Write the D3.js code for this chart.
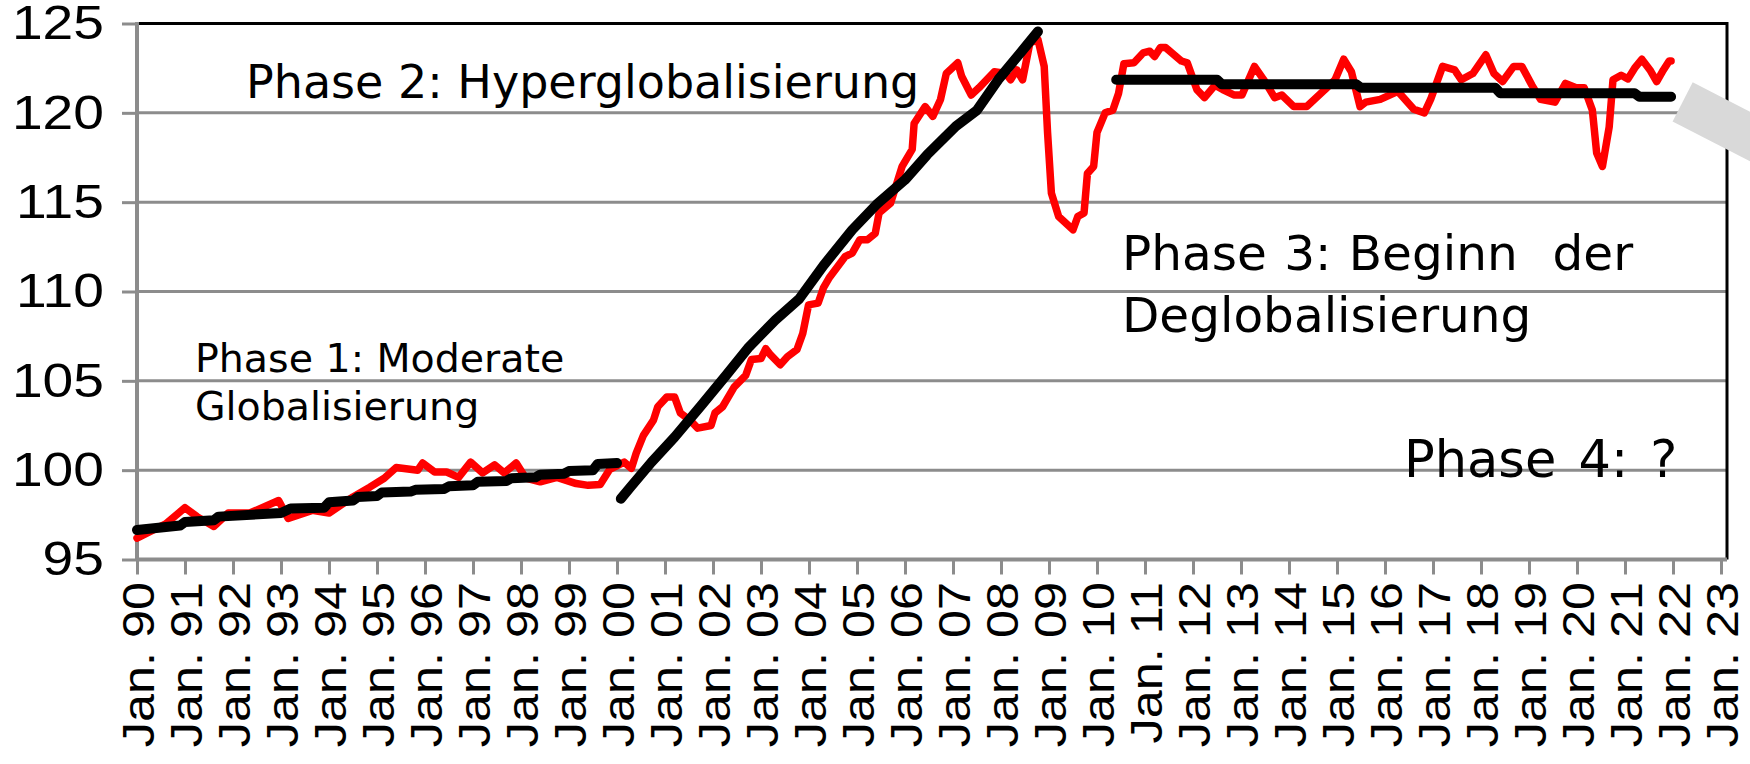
<!DOCTYPE html>
<html>
<head>
<meta charset="utf-8">
<style>
body { margin: 0; background: #fff; }
svg { display: block; font-family: "DejaVu Sans", Verdana, sans-serif; }
.grid line { stroke: #8c8c8c; stroke-width: 3; }
.axis path { display: none; }
.axis line { stroke: #8c8c8c; stroke-width: 3; }
.axis text { fill: #000; }
.note { fill: #000; white-space: pre; }
</style>
</head>
<body>
<svg width="1750" height="764"></svg>
<script src="https://cdn.jsdelivr.net/npm/d3@7"></script>
<script>

// index values, [decimal year, value]
const tradeIndex = [
  [1990.00, 96.2], [1990.30, 96.6], [1990.60, 97.0], [1991.00, 97.9], [1991.25, 97.4],
  [1991.60, 96.85], [1991.90, 97.6], [1992.35, 97.6], [1992.95, 98.3], [1993.15, 97.3],
  [1993.65, 97.75], [1994.00, 97.6], [1994.50, 98.5], [1994.85, 99.05], [1995.15, 99.55],
  [1995.40, 100.15], [1995.85, 100.0], [1995.95, 100.4], [1996.20, 99.9], [1996.45, 99.9],
  [1996.70, 99.6], [1996.95, 100.45], [1997.20, 99.85], [1997.45, 100.3], [1997.65, 99.85],
  [1997.90, 100.4], [1998.10, 99.55], [1998.40, 99.35], [1998.75, 99.6], [1999.15, 99.25],
  [1999.40, 99.15], [1999.65, 99.2], [1999.85, 100.05], [2000.15, 100.45], [2000.30, 100.1],
  [2000.40, 100.95], [2000.55, 101.95], [2000.76, 102.8], [2000.85, 103.55], [2001.04, 104.1],
  [2001.20, 104.1], [2001.32, 103.2], [2001.52, 102.8], [2001.68, 102.35], [2001.96, 102.5],
  [2002.04, 103.2], [2002.20, 103.55], [2002.44, 104.65], [2002.68, 105.3], [2002.80, 106.2],
  [2003.00, 106.25], [2003.10, 106.8], [2003.20, 106.45], [2003.40, 105.9], [2003.55, 106.35],
  [2003.75, 106.75], [2003.87, 107.65], [2003.99, 109.25], [2004.19, 109.35], [2004.30, 110.2],
  [2004.43, 110.8], [2004.75, 111.95], [2004.90, 112.15], [2005.06, 112.9], [2005.22, 112.9],
  [2005.38, 113.25], [2005.46, 114.4], [2005.70, 114.95], [2005.94, 117.0], [2006.15, 117.95],
  [2006.19, 119.4], [2006.42, 120.35], [2006.58, 119.8], [2006.74, 120.75], [2006.86, 122.2],
  [2007.10, 122.8], [2007.18, 122.05], [2007.38, 121.0], [2007.54, 121.4], [2007.86, 122.3],
  [2008.10, 122.2], [2008.20, 121.85], [2008.33, 122.4], [2008.45, 121.85], [2008.60, 123.9],
  [2008.77, 124.1], [2008.90, 122.6], [2008.97, 118.9], [2009.05, 115.5], [2009.20, 114.2],
  [2009.50, 113.45], [2009.60, 114.2], [2009.73, 114.4], [2009.80, 116.6], [2009.93, 117.0],
  [2010.00, 118.9], [2010.17, 120.0], [2010.33, 120.15], [2010.45, 121.1], [2010.56, 122.75],
  [2010.77, 122.8], [2010.96, 123.35], [2011.10, 123.45], [2011.20, 123.15], [2011.32, 123.65],
  [2011.43, 123.65], [2011.76, 122.9], [2011.88, 122.8], [2012.08, 121.3], [2012.24, 120.85],
  [2012.46, 121.55], [2012.62, 121.3], [2012.85, 121.0], [2013.02, 121.0], [2013.28, 122.6],
  [2013.50, 121.75], [2013.70, 120.85], [2013.85, 121.0], [2014.10, 120.35], [2014.37, 120.35],
  [2014.75, 121.3], [2014.96, 121.85], [2015.14, 123.0], [2015.30, 122.3], [2015.48, 120.35],
  [2015.60, 120.6], [2015.90, 120.75], [2016.27, 121.2], [2016.60, 120.2], [2016.82, 120.0],
  [2016.95, 120.75], [2017.20, 122.6], [2017.45, 122.4], [2017.59, 121.85], [2017.83, 122.2],
  [2018.10, 123.25], [2018.27, 122.2], [2018.45, 121.75], [2018.68, 122.6], [2018.85, 122.6],
  [2019.06, 121.55], [2019.24, 120.75], [2019.54, 120.6], [2019.76, 121.65], [2019.98, 121.4],
  [2020.15, 121.4], [2020.32, 120.15], [2020.41, 117.75], [2020.53, 117.0], [2020.67, 119.2],
  [2020.75, 121.85], [2020.92, 122.1], [2021.06, 121.9], [2021.20, 122.5], [2021.35, 123.0],
  [2021.52, 122.4], [2021.66, 121.75], [2021.80, 122.4], [2021.92, 122.9], [2021.96, 122.9]
]

// trend lines of the three phases
const trendPhase1 = [
  [1990.0, 96.65], [1990.9, 96.9], [1991.0, 97.1], [1991.6, 97.2], [1991.7, 97.4],
  [1993.0, 97.6], [1993.2, 97.85], [1993.9, 97.9], [1994.0, 98.2], [1994.5, 98.3],
  [1994.6, 98.5], [1995.0, 98.55], [1995.1, 98.75], [1995.7, 98.8], [1995.8, 98.9],
  [1996.4, 98.95], [1996.5, 99.1], [1997.0, 99.15], [1997.1, 99.35], [1997.7, 99.4],
  [1997.8, 99.55], [1998.3, 99.6], [1998.4, 99.75], [1998.9, 99.8], [1999.0, 99.95],
  [1999.5, 100.0], [1999.6, 100.35], [2000.0, 100.4]
]
const trendPhase2 = [
  [2000.08, 98.4], [2000.28, 99.05], [2000.72, 100.45], [2001.2, 101.85], [2001.75, 103.6],
  [2002.27, 105.3], [2002.75, 106.9], [2003.3, 108.4], [2003.8, 109.6], [2004.3, 111.45],
  [2004.9, 113.45], [2005.4, 114.85], [2006.0, 116.25], [2006.46, 117.65],
  [2007.06, 119.25], [2007.5, 120.15], [2007.94, 121.85], [2008.45, 123.5], [2008.77, 124.55]
]
const trendPhase3 = [
  [2010.4, 121.85], [2012.5, 121.85], [2012.6, 121.6], [2015.4, 121.6], [2015.5, 121.4],
  [2018.3, 121.4], [2018.4, 121.1], [2021.2, 121.1], [2021.3, 120.9], [2021.96, 120.9]
]

const yTicks = [95, 100, 105, 110, 115, 120, 125]
const xTickYears = [1990, 1991, 1992, 1993, 1994, 1995, 1996, 1997, 1998, 1999, 2000,
  2001, 2002, 2003, 2004, 2005, 2006, 2007, 2008, 2009, 2010, 2011, 2012, 2013, 2014,
  2015, 2016, 2017, 2018, 2019, 2020, 2021, 2022, 2023]
const xTickLabels = ['Jan. 90', 'Jan. 91', 'Jan. 92', 'Jan. 93', 'Jan. 94', 'Jan. 95',
  'Jan. 96', 'Jan. 97', 'Jan. 98', 'Jan. 99', 'Jan. 00', 'Jan. 01', 'Jan. 02', 'Jan. 03',
  'Jan. 04', 'Jan. 05', 'Jan. 06', 'Jan. 07', 'Jan. 08', 'Jan. 09', 'Jan. 10', 'Jan. 11',
  'Jan. 12', 'Jan. 13', 'Jan. 14', 'Jan. 15', 'Jan. 16', 'Jan. 17', 'Jan. 18', 'Jan. 19',
  'Jan. 20', 'Jan. 21', 'Jan. 22', 'Jan. 23']

const notes = [
  {lines: ['Phase 1: Moderate', 'Globalisierung'], x: 195, y: 372, size: 39.5, step: 48, ws: 0},
  {lines: ['Phase 2: Hyperglobalisierung'], x: 246, y: 98, size: 46, step: 0, ws: 0},
  {lines: ['Phase 3: Beginn  der', 'Deglobalisierung'], x: 1122, y: 270, size: 48.5, step: 62, ws: 2},
  {lines: ['Phase 4: ?'], x: 1404, y: 477, size: 51, step: 0, ws: 6}
]

const plot = {left: 137, right: 1727, top: 23.5, bottom: 559.5}

const svg = d3.select('svg')

const x = d3.scaleLinear()
  .domain([1990, 2023.125])
  .range([plot.left, plot.right])
const y = d3.scaleLinear()
  .domain([95, 125])
  .range([plot.bottom, plot.top])

// horizontal grid
svg.append('g')
  .attr('class', 'grid')
  .selectAll('line')
  .data(yTicks.filter(d => d > 95 && d < 125))
  .enter()
  .append('line')
    .attr('x1', plot.left)
    .attr('x2', plot.right)
    .attr('y1', d => y(d))
    .attr('y2', d => y(d))

// black frame on top and right
svg.append('path')
  .attr('d', `M${plot.left},${plot.top}H${plot.right}V${plot.bottom}`)
  .attr('fill', 'none')
  .attr('stroke', '#000')
  .attr('stroke-width', 3)

// y axis, digits drawn a little wide like the original
const yAxis = svg.append('g')
  .attr('class', 'axis')
  .attr('transform', `translate(${plot.left},0)`)
  .call(d3.axisLeft(y).tickValues(yTicks).tickSize(15).tickPadding(18))
yAxis.selectAll('text')
  .style('font-size', '48px')
  .attr('x', 0)
  .attr('transform', 'translate(-33,0) scale(1.15,1)')
yAxis.append('line')
  .attr('y1', plot.top - 1.5)
  .attr('y2', plot.bottom)
  .style('stroke-width', 4)

// x axis, labels read upwards and are drawn a bit stretched like the original
const xAxis = svg.append('g')
  .attr('class', 'axis')
  .attr('transform', `translate(0,${plot.bottom})`)
  .call(d3.axisBottom(x).tickValues(xTickYears).tickSize(15)
    .tickFormat((d, i) => xTickLabels[i]))
xAxis.selectAll('text')
  .style('font-size', '45px')
  .attr('text-anchor', 'end')
  .attr('transform', 'rotate(-90) scale(1.12,1)')
  .attr('x', -20)
  .attr('y', 0)
  .attr('dy', '0.36em')
xAxis.append('line')
  .attr('x1', plot.left)
  .attr('x2', plot.right)
  .style('stroke-width', 4)

const line = d3.line()
  .x(d => x(d[0]))
  .y(d => y(d[1]))

svg.append('path')
  .datum(tradeIndex)
  .attr('d', line)
  .attr('fill', 'none')
  .attr('stroke', '#ff0000')
  .attr('stroke-width', 7.5)
  .attr('stroke-linejoin', 'round')
  .attr('stroke-linecap', 'round')

svg.selectAll('.trend')
  .data([trendPhase1, trendPhase2, trendPhase3])
  .enter()
  .append('path')
    .attr('class', 'trend')
    .attr('d', line)
    .attr('fill', 'none')
    .attr('stroke', '#000')
    .attr('stroke-width', 10)
    .attr('stroke-linejoin', 'round')
    .attr('stroke-linecap', 'round')

// grey arrow shaft leaving the chart on the right
svg.append('rect')
  .attr('transform', 'translate(1692.7,82.3) rotate(27.2)')
  .attr('width', 200)
  .attr('height', 44)
  .attr('fill', '#d9d9d9')

// phase labels
notes.forEach(n => {
  const t = svg.append('text')
    .attr('class', 'note')
    .attr('x', n.x)
    .attr('y', n.y)
    .style('font-size', `${n.size}px`)
    .style('word-spacing', `${n.ws}px`)
  n.lines.forEach((l, i) => {
    t.append('tspan')
      .attr('x', n.x)
      .attr('y', n.y + i * n.step)
      .text(l)
  })
})

</script>
</body>
</html>
